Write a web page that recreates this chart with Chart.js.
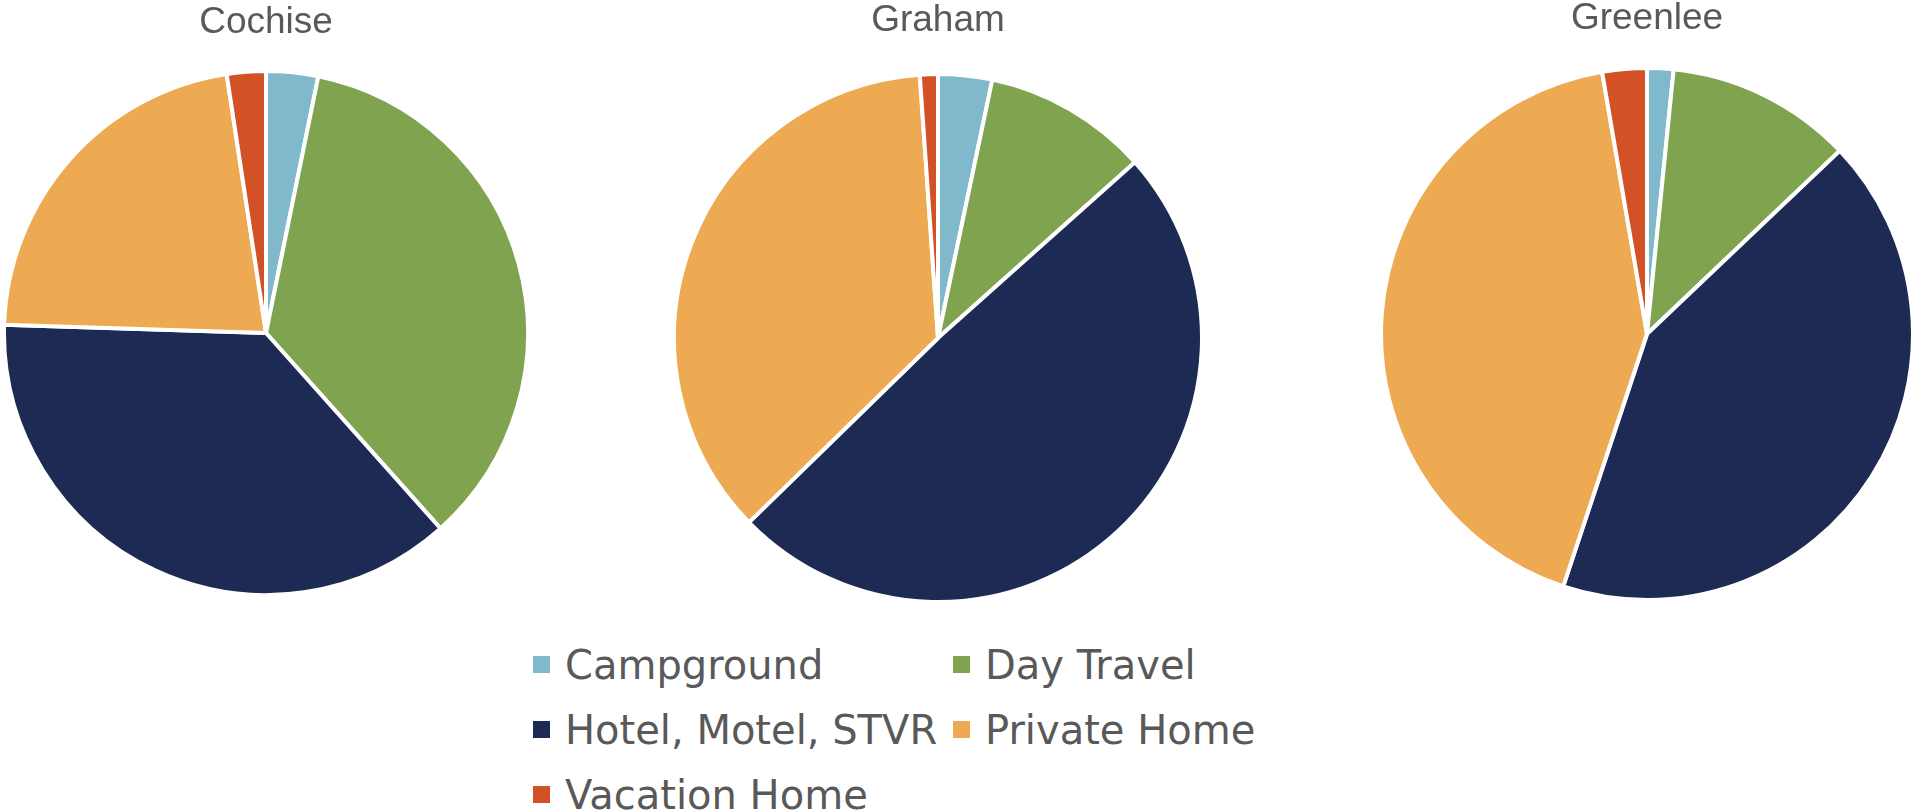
<!DOCTYPE html>
<html>
<head>
<meta charset="utf-8">
<script src="https://cdn.jsdelivr.net/npm/chart.js@4"></script>
<style>
  body { margin: 0; width: 1911px; height: 811px; overflow: hidden; background: #fff; }
  .pie { position: absolute; top: 0; }
  #legend { position: absolute; left: 533px; top: 632px; display: grid;
            grid-template-columns: 420px 320px; grid-auto-rows: 65px; }
  .item { display: flex; align-items: center; height: 65px; }
  .box { width: 17px; height: 17px; margin-right: 15px; flex: none; }
  .lbl { font: 40px "DejaVu Sans", sans-serif; line-height: 1; color: #595959; white-space: nowrap; }
</style>
</head>
<body>
<canvas id="cochise" class="pie" width="532" height="597" style="left:0px"></canvas>
<canvas id="graham" class="pie" width="540" height="604" style="left:668px"></canvas>
<canvas id="greenlee" class="pie" width="536" height="602" style="left:1379px"></canvas>
<div id="legend"></div>
<script>
// categories + colours
const categories = ['Campground', 'Day Travel', 'Hotel, Motel, STVR', 'Private Home', 'Vacation Home'];
const colors = ['#80B9CB', '#7FA34E', '#1D2A53', '#EDAA52', '#D25126'];

// share of visitors (%) per county
const cochise = [3.2, 35.2, 37.1, 22.1, 2.4];
const graham = [3.3, 10.1, 49.3, 36.2, 1.1];
const greenlee = [1.6, 11.3, 42.2, 42.2, 2.7];

function makePie(id, title, values, titleTop, pieTop) {
  const size = 37;
  return new Chart(document.getElementById(id), {
    type: 'pie',
    data: {
      labels: categories,
      datasets: [{
        data: values,
        backgroundColor: colors,
        borderColor: '#ffffff',
        borderWidth: 4
      }]
    },
    options: {
      responsive: false,
      animation: false,
      plugins: {
        legend: { display: false },
        tooltip: { enabled: false },
        title: {
          display: true,
          text: title,
          color: '#595959',
          font: { family: '"Liberation Sans", Arial, sans-serif', size: size, weight: 'normal', lineHeight: 1 },
          padding: { top: titleTop, bottom: pieTop - size - titleTop }
        }
      }
    }
  });
}

makePie('cochise', 'Cochise', cochise, 4, 69);
makePie('graham', 'Graham', graham, 2, 72);
makePie('greenlee', 'Greenlee', greenlee, 0, 66);

// legend in two columns like the original
const legend = document.getElementById('legend');
categories.forEach((c, i) => {
  const item = document.createElement('div');
  item.className = 'item';
  item.innerHTML = '<span class="box" style="background:' + colors[i] + '"></span><span class="lbl">' + c + '</span>';
  legend.appendChild(item);
});
</script>
</body>
</html>
